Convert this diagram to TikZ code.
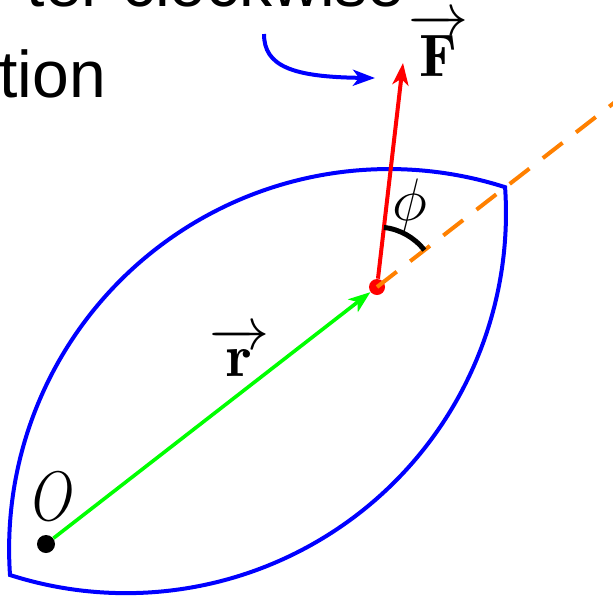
\RequirePackage{fix-cm}
\documentclass[tikz,border=0pt]{standalone}
\usepackage{amsmath,amssymb}
\usepackage{fontspec}
\newfontfamily\sansfont{Liberation Sans}
\usepackage{xcolor}
\usepackage{tikz}
\usetikzlibrary{arrows.meta,calc}

\definecolor{lensblue}{RGB}{0,0,255}
\definecolor{rgreen}{RGB}{0,255,0}
\definecolor{fred}{RGB}{255,0,0}
\definecolor{rayorange}{RGB}{255,128,0}

\begin{document}
\begin{tikzpicture}[
  x=0.5pt, y=-0.5pt,
  lens/.style={draw=lensblue, line width=2pt, line join=miter},
  arrowhead/.style={-{Stealth[length=11pt, width=8pt, inset=3pt]}},
  rvec/.style={arrowhead, draw=rgreen, line width=1.8pt},
  fvec/.style={arrowhead, draw=fred, line width=2pt},
  ray/.style={draw=rayorange, line width=2pt, dash pattern=on 12.5pt off 8.5pt},
  turn/.style={arrowhead, draw=lensblue, line width=2pt},
  anglearc/.style={draw=black, line width=2.5pt},
  dotnode/.style={circle, inner sep=0pt},
  lab/.style={inner sep=0pt, font=\fontsize{30}{36}\selectfont},
  words/.style={inner sep=0pt, font=\sansfont\fontsize{33}{40}\selectfont}
]
\useasboundingbox (0,0) rectangle (613,596);
\clip (0,0) rectangle (613,596);

% text cut off by the frame
\node[words, anchor=base east] (ccw) at (405,6) {ter clockwise};
\node[words, anchor=base west] (rot) at (-1,97) {tion};

% body
\draw[lens] (10,575) arc[start angle=176.08, end angle=287.77, radius=380]
  arc[start angle=-3.92, end angle=107.77, radius=380] -- cycle;

\node[dotnode, fill=black, minimum size=9pt] (O) at (46,544) {};
\node[dotnode, fill=fred, minimum size=8pt] (P) at (377,287) {};
\coordinate (Ftip) at (403,63);
\coordinate (rayend) at (700,36);

\draw[ray] (P.center) -- (rayend);
\draw[rvec] (O) -- (P);
\draw[fvec] (P) -- (Ftip);
\draw[anglearc] ([shift={(-37.9:60)}]P.center) arc[start angle=-37.9, end angle=-83.4, radius=60];

\coordinate (turnstart) at (264,34);
\coordinate (turnend) at (375,78);
\draw[turn] (turnstart) .. controls (264,66) and (292,77) .. (turnend);

% labels
\node[lab] (Flab) at (438,45) {$\overrightarrow{\mathbf{F}}$};
\node[lab] (rlab) at (239,352) {$\overrightarrow{\mathbf{r}}$};
\node[lab] (philab) at (410,205) {$\phi$};
\node[lab] (Olab) at (54,497) {\scalebox{0.78}[1]{\fontsize{35}{42}\selectfont$O$}};
\end{tikzpicture}
\end{document}
